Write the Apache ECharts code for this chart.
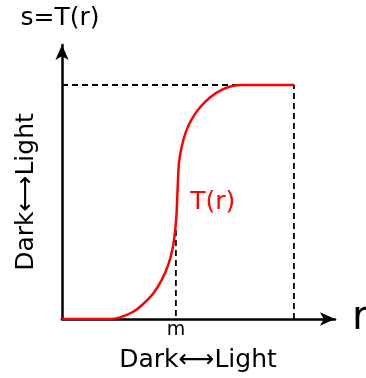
<!DOCTYPE html>
<html>
<head>
<meta charset="utf-8">
<script src="https://cdn.jsdelivr.net/npm/echarts@6/dist/echarts.min.js"></script>
<style>
html,body{margin:0;padding:0;background:#fff;}
#main{width:366px;height:378px;}
</style>
</head>
<body>
<div id="main"></div>
<script>
// T(r) curve, r and s scaled so that L-1 = 1
var curveR = [0, 0.207, 0.25, 0.307, 0.35, 0.394, 0.43, 0.458, 0.477, 0.488, 0.494, 0.497, 0.5, 0.504, 0.516, 0.534, 0.559, 0.595, 0.638, 0.688, 0.738, 0.775, 1]
var curveS = [0, 0, 0.007, 0.031, 0.064, 0.11, 0.167, 0.231, 0.302, 0.38, 0.452, 0.523, 0.594, 0.665, 0.736, 0.8, 0.853, 0.905, 0.947, 0.979, 0.997, 1, 1]
var boxR = [0, 1, 1]
var boxS = [1, 1, 0]
var mR = [0.491, 0.491]
var mS = [0.38, 0]

function pairs(xs, ys){
    return xs.map(function(x, i){ return [x, ys[i]] })
}

var font = 'DejaVu Sans'
var myChart = echarts.init(document.getElementById('main'))
var option = {
    animation: false,
    grid: { left: 62, right: 31, top: 45, bottom: 59, outerBoundsMode: 'none', containLabel: false },
    xAxis: {
        type: 'value',
        min: 0,
        max: 1.177,
        name: 'r',
        nameLocation: 'end',
        nameGap: 17,
        nameTextStyle: { fontSize: 40, fontFamily: font, color: '#000', verticalAlign: 'middle', padding: [8, 0, 0, 0] },
        axisLine: { lineStyle: { color: '#000', width: 2.5 }, symbol: ['none', 'arrow'], symbolSize: [10, 15] },
        axisTick: { show: false },
        splitLine: { show: false },
        axisLabel: { show: false }
    },
    yAxis: {
        type: 'value',
        min: 0,
        max: 1.171,
        name: 's=T(r)',
        nameLocation: 'end',
        nameGap: 14,
        nameTextStyle: { fontSize: 25, fontFamily: font, color: '#000', padding: [0, 4, 0, 0] },
        axisLine: { lineStyle: { color: '#000', width: 2.5 }, symbol: ['none', 'arrow'], symbolSize: [10, 15] },
        axisTick: { show: false },
        splitLine: { show: false },
        axisLabel: { show: false }
    },
    graphic: [
        {
            type: 'text', x: 198, y: 360,
            style: { text: 'Dark⟷Light', font: '25px DejaVu Sans', fill: '#000', align: 'center', verticalAlign: 'middle' }
        },
        {
            type: 'text', x: 26, y: 192, rotation: Math.PI / 2,
            style: { text: 'Dark⟷Light', font: '25px DejaVu Sans', fill: '#000', align: 'center', verticalAlign: 'middle' }
        }
    ],
    series: [
        {
            type: 'line', data: pairs(boxR, boxS), symbol: 'none',
            lineStyle: { color: '#000', width: 1.8, type: [6, 4] }
        },
        {
            type: 'line', data: pairs(mR, mS), symbol: 'none',
            lineStyle: { color: '#000', width: 1.8, type: [6, 4] },
            markPoint: {
                symbol: 'circle', symbolSize: 0,
                label: { show: true, formatter: 'm', color: '#000', fontSize: 19, fontFamily: font, offset: [0, 11] },
                data: [{ coord: [mR[1], mS[1]] }]
            }
        },
        {
            type: 'line', data: pairs(curveR, curveS), symbol: 'none', smooth: 0.25,
            lineStyle: { color: '#ff0000', width: 2.5 },
            markPoint: {
                symbol: 'circle', symbolSize: 0,
                label: { show: true, formatter: 'T(r)', color: '#ff0000', fontSize: 25, fontFamily: font },
                data: [{ coord: [0.65, 0.5] }]
            }
        }
    ]
}
myChart.setOption(option)
</script>
</body>
</html>
